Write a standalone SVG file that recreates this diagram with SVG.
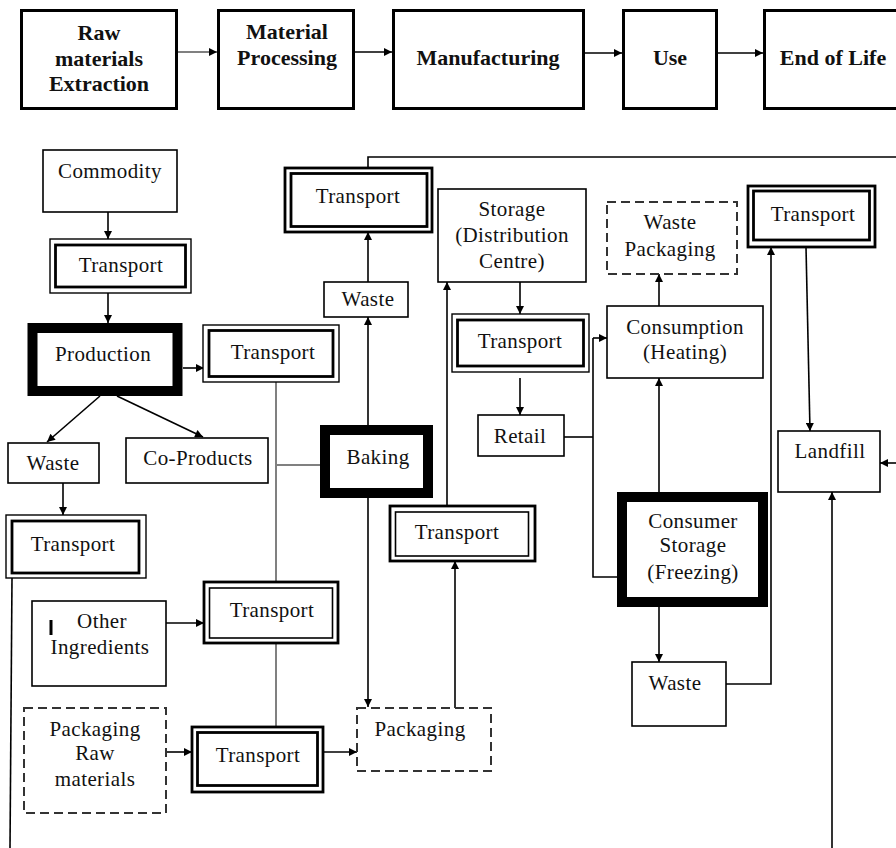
<svg xmlns="http://www.w3.org/2000/svg" width="896" height="848" viewBox="0 0 896 848">
<defs>
<marker id="ah" viewBox="0 0 10 10" refX="10" refY="5" markerWidth="9" markerHeight="8" markerUnits="userSpaceOnUse" orient="auto">
<path d="M0,0 L10,5 L0,10 z" fill="#000"/>
</marker>
<style>
text{font-family:"Liberation Serif","Times New Roman",serif;fill:#111;text-anchor:middle}
.h{font-size:22px;font-weight:bold}
.b{font-size:21px;letter-spacing:0.4px}
.top{fill:#fff;stroke:#000;stroke-width:3}
.box{fill:#fff;stroke:#000;stroke-width:1.6}
.dash{fill:#fff;stroke:#333;stroke-width:2;stroke-dasharray:9 5}
.heavy{fill:#fff;stroke:#000;stroke-width:10}
.o1{fill:#fff;stroke:#000;stroke-width:1.4}
.o2{fill:#fff;stroke:#000;stroke-width:2.8}
.i1{fill:none;stroke:#000;stroke-width:1.6}
.i2{fill:none;stroke:#000;stroke-width:2.8}
.c{fill:none;stroke:#000;stroke-width:1.6}
.g{fill:none;stroke:#808080;stroke-width:2}
.a{marker-end:url(#ah)}
</style>
</defs>

<g id="connectors">
<line class="g a" x1="178" y1="52" x2="217" y2="52"/>
<line class="c a" x1="355" y1="52" x2="392" y2="52"/>
<line class="c a" x1="585" y1="53" x2="622" y2="53"/>
<line class="c a" x1="718" y1="53" x2="763" y2="53"/>

<line class="c a" x1="108" y1="212" x2="108" y2="239"/>
<line class="c a" x1="108" y1="293" x2="108" y2="323"/>
<line class="c a" x1="183" y1="368" x2="204" y2="368"/>
<line class="c a" x1="100" y1="396" x2="47" y2="442"/>
<line class="c a" x1="117" y1="396" x2="203" y2="437"/>
<line class="c a" x1="63" y1="483" x2="63" y2="515"/>
<line class="c" x1="12" y1="578" x2="10" y2="848"/>

<polyline class="g" points="276,382 276,582"/>
<polyline class="g" points="276,643 276,727"/>
<line class="g" x1="276" y1="465" x2="320" y2="465"/>

<line class="c a" x1="166" y1="623" x2="204" y2="623"/>
<line class="c a" x1="166" y1="752" x2="192" y2="752"/>
<line class="c a" x1="323" y1="752" x2="357" y2="752"/>

<line class="c a" x1="368" y1="498" x2="368" y2="707"/>
<line class="c a" x1="368" y1="425" x2="368" y2="317"/>
<line class="c a" x1="368" y1="282" x2="368" y2="232"/>
<polyline class="c" points="368,168 368,157 896,157"/>

<line class="c a" x1="455" y1="708" x2="455" y2="561"/>
<line class="c a" x1="447" y1="506" x2="447" y2="282"/>
<line class="c a" x1="520" y1="282" x2="520" y2="314"/>
<line class="c a" x1="520" y1="378" x2="520" y2="415"/>

<line class="c" x1="564" y1="437" x2="593" y2="437"/>
<polyline class="c" points="617,577 593,577 593,338"/>
<line class="c a" x1="593" y1="338" x2="607" y2="338"/>

<line class="c a" x1="659" y1="492" x2="659" y2="378"/>
<line class="c a" x1="659" y1="306" x2="659" y2="274"/>
<line class="c a" x1="659" y1="607" x2="659" y2="662"/>
<polyline class="c a" points="726,684 771,684 771,247"/>
<line class="c a" x1="806" y1="247" x2="810" y2="431"/>
<line class="c a" x1="896" y1="463" x2="880" y2="463"/>
<line class="c a" x1="832" y1="848" x2="832" y2="492"/>
</g>

<g id="raw-materials-extraction">
<rect class="top" x="21.5" y="10.5" width="155" height="98"/>
<text class="h" x="99" y="40">Raw</text>
<text class="h" x="99" y="66">materials</text>
<text class="h" x="99" y="91">Extraction</text>
</g>
<g id="material-processing">
<rect class="top" x="218.5" y="10.5" width="135" height="98"/>
<text class="h" x="287" y="39">Material</text>
<text class="h" x="287" y="65">Processing</text>
</g>
<g id="manufacturing">
<rect class="top" x="393.5" y="10.5" width="190" height="98"/>
<text class="h" x="488" y="65">Manufacturing</text>
</g>
<g id="use">
<rect class="top" x="623.5" y="10.5" width="93" height="98"/>
<text class="h" x="670" y="65">Use</text>
</g>
<g id="end-of-life">
<rect class="top" x="764.5" y="10.5" width="140" height="98"/>
<text class="h" x="833" y="65">End of Life</text>
</g>

<g id="commodity">
<rect class="box" x="43" y="150" width="134" height="62"/>
<text class="b" x="110" y="178">Commodity</text>
</g>
<g id="transport-1">
<rect class="o1" x="50" y="239" width="141" height="54"/>
<rect class="i2" x="55.5" y="245" width="130" height="42"/>
<text class="b" x="121" y="272">Transport</text>
</g>
<g id="production">
<rect class="heavy" x="32.5" y="328" width="145" height="63"/>
<text class="b" x="103" y="361">Production</text>
</g>
<g id="transport-2">
<rect class="o1" x="203" y="325" width="136" height="57"/>
<rect class="i2" x="209" y="330.5" width="124" height="46"/>
<text class="b" x="273" y="359">Transport</text>
</g>
<g id="waste-1">
<rect class="box" x="8" y="443" width="91" height="40"/>
<text class="b" x="53" y="470">Waste</text>
</g>
<g id="co-products">
<rect class="box" x="126" y="438" width="142" height="45"/>
<text class="b" x="198" y="465">Co-Products</text>
</g>
<g id="transport-3">
<rect class="o1" x="6" y="515" width="140" height="63"/>
<rect class="i2" x="12" y="521" width="127" height="52"/>
<text class="b" x="73" y="551">Transport</text>
</g>
<g id="baking">
<rect class="heavy" x="325" y="430" width="103" height="63"/>
<text class="b" x="378" y="464">Baking</text>
</g>
<g id="other-ingredients">
<rect class="box" x="32" y="601" width="134" height="85"/>
<rect x="49.5" y="620" width="3" height="15" fill="#000"/>
<text class="b" x="102" y="628">Other</text>
<text class="b" x="100" y="654">Ingredients</text>
</g>
<g id="transport-4">
<rect class="o2" x="204" y="582" width="134" height="61"/>
<rect class="i1" x="209.5" y="588" width="123" height="50"/>
<text class="b" x="272" y="617">Transport</text>
</g>
<g id="packaging-raw-materials">
<rect class="dash" x="24" y="708" width="142" height="105"/>
<text class="b" x="95" y="736">Packaging</text>
<text class="b" x="95" y="760">Raw</text>
<text class="b" x="95" y="786">materials</text>
</g>
<g id="transport-5">
<rect class="o2" x="192" y="727" width="131" height="65"/>
<rect class="i2" x="197.5" y="732.5" width="120" height="53"/>
<text class="b" x="258" y="762">Transport</text>
</g>
<g id="packaging">
<rect class="dash" x="357" y="708" width="134" height="63"/>
<text class="b" x="420" y="736">Packaging</text>
</g>
<g id="transport-6">
<rect class="o2" x="390" y="506" width="145" height="55"/>
<rect class="i1" x="395.5" y="512" width="133" height="44"/>
<text class="b" x="457" y="539">Transport</text>
</g>
<g id="transport-7">
<rect class="o2" x="285" y="168" width="147" height="64"/>
<rect class="i2" x="291" y="173.5" width="136" height="53"/>
<text class="b" x="358" y="203">Transport</text>
</g>
<g id="waste-2">
<rect class="box" x="324" y="282" width="84" height="35"/>
<text class="b" x="368" y="306">Waste</text>
</g>
<g id="storage-distribution-centre">
<rect class="box" x="438" y="189" width="148" height="93"/>
<text class="b" x="512" y="216">Storage</text>
<text class="b" x="512" y="242">(Distribution</text>
<text class="b" x="512" y="268">Centre)</text>
</g>
<g id="transport-8">
<rect class="o1" x="452" y="314" width="137" height="58"/>
<rect class="i2" x="457.5" y="320" width="126" height="46"/>
<text class="b" x="520" y="348">Transport</text>
</g>
<g id="retail">
<rect class="box" x="478" y="415" width="86" height="41"/>
<text class="b" x="520" y="443">Retail</text>
</g>
<g id="waste-packaging">
<rect class="dash" x="607" y="202" width="130" height="72"/>
<text class="b" x="670" y="229">Waste</text>
<text class="b" x="670" y="256">Packaging</text>
</g>
<g id="consumption-heating">
<rect class="box" x="607" y="306" width="156" height="72"/>
<text class="b" x="685" y="334">Consumption</text>
<text class="b" x="685" y="359">(Heating)</text>
</g>
<g id="consumer-storage-freezing">
<rect class="heavy" x="622" y="497" width="141" height="105"/>
<text class="b" x="693" y="528">Consumer</text>
<text class="b" x="693" y="552">Storage</text>
<text class="b" x="693" y="579">(Freezing)</text>
</g>
<g id="waste-3">
<rect class="box" x="632" y="662" width="94" height="64"/>
<text class="b" x="675" y="690">Waste</text>
</g>
<g id="transport-9">
<rect class="o2" x="748" y="186" width="127" height="61"/>
<rect class="i2" x="753.5" y="191" width="116" height="49"/>
<text class="b" x="813" y="221">Transport</text>
</g>
<g id="landfill">
<rect class="box" x="778" y="431" width="102" height="61"/>
<text class="b" x="830" y="458">Landfill</text>
</g>
</svg>
